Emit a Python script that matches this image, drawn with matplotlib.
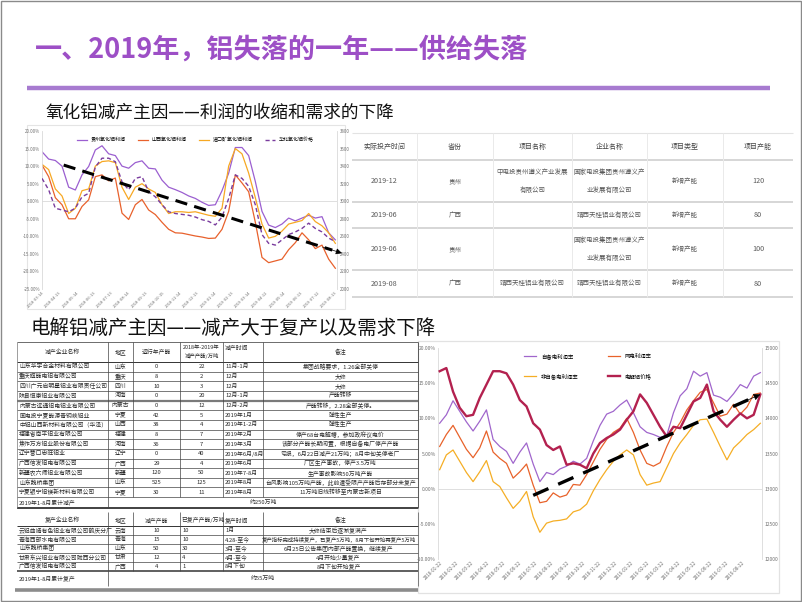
import numpy as np
import matplotlib
matplotlib.use('Agg')
import matplotlib.pyplot as plt
from matplotlib.patches import Rectangle

plt.rcParams['font.family'] = ['Noto Sans CJK SC', 'DejaVu Sans']
plt.rcParams['axes.unicode_minus'] = False

# ---------------- text ----------------
title = "一、2019年，铝失落的一年——供给失落"
sub1 = "氧化铝减产主因——利润的收缩和需求的下降"
sub2 = "电解铝减产主因——减产大于复产以及需求下降"

# ---------------- alumina chart data ----------------
alu_labels = ["贵州氧化铝利润", "山西氧化铝利润", "进口矿氧化铝利润", "华北氧化铝价格"]
alu_dates = ["2018-03-14", "2018-04-13", "2018-05-14", "2018-06-13", "2018-07-13", "2018-08-14",
             "2018-09-13", "2018-10-15", "2018-11-14", "2018-12-13", "2019-01-14", "2019-02-13",
             "2019-03-14", "2019-04-12", "2019-05-14", "2019-06-13", "2019-07-12", "2019-08-13"]
guizhou = [14.1, 12.0, 11.6, 10.0, 4.0, 3.2, 7.5, 9.9, 14.6, 15.8, 13.5, 13.0, 10.0, 9.4, 11.0,
           11.5, 9.4, 9.2, 6.0, 4.0, 3.3, 2.5, 1.5, 0.8, -0.3, -1.2, -1.0, 3.0, 8.0, 15.3,
           15.3, 13.0, 5.6, -2.9, -6.8, -7.5, -6.5, -4.8, -5.6, -4.8, -4.0, -4.8, -4.4, -9.0, -11.0]
shanxi = [10.3, 7.0, 1.0, -1.0, -5.0, -5.0, -1.5, 0.4, 7.0, 7.5, 5.8, 6.6, -3.4, -5.2, -1.0,
          0.5, -2.5, -3.8, -6.0, -8.0, -9.0, -9.1, -9.5, -9.9, -10.2, -10.6, -10.5, -8.0, -2.9, 7.5,
          5.2, 2.7, -6.0, -16.0, -17.5, -17.0, -16.5, -13.8, -11.8, -9.0, -11.0, -13.5, -12.5, -16.5, -19.1]
import_ore = [10.5, 9.0, 3.5, 1.5, -3.5, -2.0, 3.0, 3.5, 10.0, 11.3, 11.5, 11.0, 4.0, 0.5, 4.0,
              5.0, 3.5, 2.5, -1.0, -3.5, -3.0, -3.0, -3.2, -3.0, -3.5, -4.0, -4.3, -2.0, 10.0, 15.0,
              13.5, 8.0, 1.0, -6.5, -10.5, -10.0, -8.5, -6.5, -6.0, -5.5, -3.5, -5.8, -7.0, -9.0, -12.0]
huabei_price = [3260, 3130, 2920, 2900, 2880, 2920, 3050, 3090, 3390, 3490, 3490, 3450, 3220, 3130, 3260,
                 3280, 3110, 3050, 2960, 2880, 2860, 2850, 2840, 2820, 2790, 2770, 2730, 2820, 3030, 3300,
                 3260, 3170, 2960, 2620, 2520, 2500, 2560, 2620, 2650, 2690, 2750, 2690, 2650, 2580, 2540]
alu_trend_start = [3.25, 10.3]
alu_trend_end = [45.0, -14.8]

# ---------------- electrolytic aluminium chart data ----------------
el_labels = ["自备电利润率", "非自备电利润率", "网电利润率", "电解铝价格"]
el_dates = ["2018-01-22", "2018-02-22", "2018-03-22", "2018-04-22", "2018-05-22", "2018-06-22",
            "2018-07-22", "2018-08-22", "2018-09-22", "2018-10-22", "2018-11-22", "2018-12-22",
            "2019-01-22", "2019-02-22", "2019-03-22", "2019-04-22", "2019-05-22", "2019-06-22",
            "2019-07-22", "2019-08-22"]
self_power = [9.3, 10.5, 12.5, 11.0, 9.5, 8.2, 9.6, 11.2, 7.0, 6.0, 5.3, 3.6, 5.2, 6.5, 3.5,
              1.0, 2.3, 2.0, 2.8, 3.2, 3.9, 3.5, 4.3, 6.8, 9.0, 10.6, 11.0, 11.9, 12.6, 10.8,
              8.8, 8.0, 7.7, 7.3, 7.6, 10.8, 13.2, 14.2, 16.7, 16.0, 16.5, 13.3, 13.0, 12.4, 13.5,
              14.8, 14.3, 16.0, 16.5]
grid_power = [6.0, 7.7, 9.0, 7.3, 5.6, 4.4, 5.8, 8.2, 5.2, 4.3, 3.6, 1.5, 2.4, 3.5, 0.5,
              -2.0, -1.8, -0.6, -1.2, -0.9, 0.6, 0.5, 2.0, 3.8, 5.6, 7.0, 8.0, 8.6, 10.0, 8.0,
              5.5, 3.6, 3.2, 3.7, 6.0, 8.0, 9.4, 11.2, 12.5, 13.7, 14.1, 12.2, 10.3, 10.6, 12.0,
              10.6, 11.6, 13.4, 13.6]
non_self = [2.7, 4.8, 5.5, 3.9, 2.3, 1.0, 2.4, 4.0, 1.0, 0.3, -1.3, -2.8, -1.8, -0.4, -4.0,
            -6.2, -4.9, -4.6, -4.5, -4.3, -3.3, -3.0, -2.2, -0.3, 1.3, 2.7, 3.9, 4.8, 5.5, 4.8,
            2.0, 0.5, 0.8, 1.0, 3.0, 5.0, 6.5, 7.7, 9.0, 9.8, 9.9, 8.0, 6.0, 4.1, 5.8,
            6.7, 7.7, 8.4, 9.3]
al_price = [14670, 14715, 14380, 14150, 14030, 14050, 14290, 14480, 14670, 14670, 14640, 14480, 14260, 14170, 13930,
            13840, 13620, 13550, 13600, 13340, 13360, 13340, 13290, 13500, 13650, 13720, 13770, 13840, 13980, 14100,
            14340, 14220, 14050, 13880, 13740, 13880, 13860, 14050, 14240, 14290, 14480, 14100, 13980, 13880, 13980,
            14070, 14000, 14050, 14340]
el_trend_start = [14.0, -0.95]
el_trend_end = [48.0, 13.4]

# ---------------- top-right table ----------------
tr_header = ["实际投产时间", "省份", "项目名称", "企业名称", "项目类型", "项目产能"]
tr_time = ["2019-12", "2019-06", "2019-06", "2019-08"]
tr_prov = ["贵州", "广西", "贵州", "广西"]
tr_proj = ["中电投贵州遵义产业发展\n有限公司", "", "", "靖西天桂铝业有限公司"]
tr_comp = ["国家电投集团贵州遵义产\n业发展有限公司", "靖西天桂铝业有限公司",
           "国家电投集团贵州遵义产\n业发展有限公司", "靖西天桂铝业有限公司"]
tr_type = ["新增产能", "新增产能", "新增产能", "新增产能"]
tr_cap = [120, 80, 100, 80]

# ---------------- bottom-left tables ----------------
cut_header = ["减产企业名称", "地区", "运行年产能", "2018年-2019年\n减产产能/万吨", "减产时间", "备注"]
cut_names = ["山东华宇合金材料有限公司", "重庆旗能电铝有限公司", "四川广元启明星铝业有限责任公司",
             "陕县恒康铝业有限公司", "内蒙古远通铝电铝业有限公司", "国电投宁夏能源青铜峡铝业",
             "中铝山西新材料有限公司（华泽）", "福建省南平铝业有限公司", "焦作万方铝业股份有限公司",
             "辽宁营口忠旺铝业", "广西信发铝电有限公司", "新疆农六师铝业有限公司",
             "山东魏桥集团", "宁夏银宁铝镁新材料有限公司"]
cut_region = ["山东", "重庆", "四川", "河南", "内蒙古", "宁夏", "山西", "福建", "河南", "辽宁",
              "广西", "新疆", "山东", "宁夏"]
cut_capacity = [0, 8, 10, 0, 0, 42, 38, 8, 36, 0, 29, 120, 525, 30]
cut_amount = [22, 2, 3, 20, 12, 5, 4, 7, 7, 40, 4, 50, 125, 11]
cut_time = ["11月-1月", "12月", "12月", "12月-1月", "12月-2月", "2019年1月", "2019年1-2月", "2019年2月",
            "2019年3月", "2019年6月/8月", "2019年6月", "2019年7-8月", "2019年8月", "2019年8月"]
cut_note = ["集团战略要求，1.26全部关停", "大修", "大修", "产能转移", "产能转移，2.28全部关停。",
            "弹性生产", "弹性生产", "停产68台电解槽，参加政府议电价",
            "该部分产能长期闲置，根据自备电厂停产产能", "亏损，6月22日减产21万吨；8月中旬关停老厂",
            "厂区生产事故，停产3.5万吨", "生产事故影响50万吨产能",
            "台风影响105万吨产能，此前遭受限产产能后存部分未复产", "11万吨旧线转移至内蒙古新项目"]
cut_total = ["2019年1-8月累计减产", "约250万吨"]

res_header = ["复产企业名称", "地区", "减产产能", "已复产产能/万吨", "复产时间", "备注"]
res_names = ["云铝曲靖有色铝业有限公司鹤庆分厂", "青海西部水电有限公司", "山东魏桥集团",
             "甘肃东兴铝业有限公司陇西分公司", "广西信发铝电有限公司"]
res_region = ["云南", "青海", "山东", "甘肃", "广西"]
res_capacity = [10, 15, 50, 12, 4]
res_amount = [10, 10, 30, 4, 1]
res_time = ["1月", "4.28-至今", "3月-至今", "4月-至今", "8月下旬"]
res_note = ["大修结束后逐渐复满产", "复产指标完成持续复产，已复产5万吨，8月下旬开始再复产5万吨",
            "6月25日公告集团内部产能置换，继续复产", "4月开始少量复产", "8月下旬开始复产"]
res_total = ["2019年1-8月累计复产", "约55万吨"]

# =====================================================================
W, H = 802, 602
fig = plt.figure(figsize=(8.02, 6.02), dpi=100)
fig.patch.set_facecolor('white')
bg = fig.add_axes([0, 0, 1, 1])
bg.set_xlim(0, W)
bg.set_ylim(H, 0)
bg.axis('off')


def px_axes(x0, y0, x1, y1):
    return fig.add_axes([x0 / W, 1 - y1 / H, (x1 - x0) / W, (y1 - y0) / H])


def hline(y, x0, x1, color='#444444', lw=0.5):
    bg.plot([x0, x1], [y, y], color=color, lw=lw, solid_capstyle='butt')


def vline(x, y0, y1, color='#444444', lw=0.5):
    bg.plot([x, x], [y0, y1], color=color, lw=lw, solid_capstyle='butt')


# slide frame
bg.add_patch(Rectangle((0.5, 0.5), W - 1.5, H - 1.5, fill=False, ec='#8A8A8A', lw=1.0))

# title and rule
bg.text(35, 50, title, fontsize=19.5, fontweight='bold', color='#9D4FC6', va='center', ha='left')
bg.plot([27, 770], [88, 88], color='#A77BD0', lw=3.2, solid_capstyle='butt')
bg.text(45, 113, sub1, fontsize=12.7, va='center', ha='left', color='#111111')
bg.text(31, 328, sub2, fontsize=14.0, va='center', ha='left', color='#111111')

# chart frames
bg.add_patch(Rectangle((27, 125), 318, 184, fill=False, ec='#E4E4E4', lw=0.8))
bg.add_patch(Rectangle((418, 341), 361, 252, fill=False, ec='#E2E2E2', lw=0.9))


def style_axes(ax, axr, fs_l, fs_r):
    for s in ['top', 'bottom', 'right']:
        ax.spines[s].set_visible(False)
    ax.spines['left'].set_color('#D9D9D9')
    ax.spines['left'].set_linewidth(0.6)
    for s in ['top', 'bottom', 'left']:
        axr.spines[s].set_visible(False)
    axr.spines['right'].set_color('#D9D9D9')
    axr.spines['right'].set_linewidth(0.6)
    ax.tick_params(length=0, pad=1.5, labelsize=fs_l, colors='#707070')
    axr.tick_params(length=0, pad=2, labelsize=fs_r, colors='#707070')


def dashed_arrow(ax_draw, trans, start, end, lw, dash, head):
    sx, sy = start
    ex, ey = end
    f = 0.965
    bx, by = sx + f * (ex - sx), sy + f * (ey - sy)
    ax_draw.plot([sx, bx], [sy, by], transform=trans, color='black', lw=lw,
                 ls=(0, dash), dash_capstyle='butt', clip_on=False, zorder=10)
    hx, hy = sx + 0.93 * (ex - sx), sy + 0.93 * (ey - sy)
    ax_draw.annotate('', xy=(ex, ey), xytext=(hx, hy), xycoords=trans, textcoords=trans,
                     arrowprops=dict(arrowstyle='-|>', color='black', lw=0.5,
                                     mutation_scale=head, shrinkA=0, shrinkB=0),
                     annotation_clip=False, zorder=11)


# ---------------- top-left chart ----------------
ax1 = px_axes(42, 131, 337, 289)
x1 = np.arange(len(guizhou))
l1, = ax1.plot(x1, guizhou, color='#9B5FD0', lw=0.9)
l2, = ax1.plot(x1, shanxi, color='#E8612C', lw=0.9)
l3, = ax1.plot(x1, import_ore, color='#F7A823', lw=0.9)
ax1.axhline(0, color='#D9D9D9', lw=0.6, zorder=0)
ax1.set_xlim(0, 44.25)
ax1.set_ylim(-25, 20)
ax1.set_yticks(np.arange(-25, 21, 5))
ax1.set_yticklabels([f"{v:.2f}%" for v in np.arange(-25, 21, 5)])
ax1.set_xticks(np.linspace(0, 44, len(alu_dates)))
ax1.set_xticklabels(alu_dates, rotation=45, ha='right', rotation_mode='anchor')
ax1b = ax1.twinx()
l4, = ax1b.plot(x1, huabei_price, color='#7A3C9E', lw=1.0, ls=(0, (3, 2)))
ax1b.set_ylim(2000, 3800)
ax1b.set_yticks(np.arange(2000, 3801, 200))
ax1b.set_xlim(0, 44.25)
style_axes(ax1, ax1b, 3.2, 3.2)
ax1.tick_params(axis='x', labelsize=3.0, pad=1)
ax1b.legend([l1, l2, l3, l4], alu_labels, loc='upper center', bbox_to_anchor=(0.52, 1.0),
            ncol=4, frameon=False, fontsize=3.6, handlelength=2.0, columnspacing=2.6,
            handletextpad=0.6, borderaxespad=0.8)
dashed_arrow(ax1b, ax1.transData, alu_trend_start, alu_trend_end, 2.2, (4, 2.4), 9)

# ---------------- bottom-right chart ----------------
ax2 = px_axes(438, 348, 762, 559)
x2 = np.arange(len(self_power))
m1, = ax2.plot(x2, self_power, color='#A066CC', lw=0.9)
m2, = ax2.plot(x2, non_self, color='#F5AE25', lw=0.9)
m3, = ax2.plot(x2, grid_power, color='#E8622A', lw=0.9)
ax2.axhline(0, color='#D9D9D9', lw=0.6, zorder=0)
ax2.set_xlim(-0.25, 48.25)
ax2.set_ylim(-10, 20)
ax2.set_yticks(np.arange(-10, 21, 5))
ax2.set_yticklabels([f"{v:.2f}%" for v in np.arange(-10, 21, 5)])
ax2.set_xticks(np.linspace(0, 45.3, len(el_dates)))
ax2.set_xticklabels(el_dates, rotation=45, ha='right', rotation_mode='anchor')
ax2b = ax2.twinx()
m4, = ax2b.plot(x2, al_price, color='#B3214F', lw=1.7)
ax2b.set_ylim(12000, 15000)
ax2b.set_yticks(np.arange(12000, 15001, 500))
ax2b.set_xlim(-0.25, 48.25)
style_axes(ax2, ax2b, 3.6, 3.6)
ax2.tick_params(axis='x', labelsize=3.4, pad=1)
ax2b.legend([m1, m2, m3, m4], el_labels, loc='upper left', bbox_to_anchor=(0.25, 1.0),
            ncol=2, frameon=False, fontsize=3.9, handlelength=2.2, columnspacing=5.5,
            labelspacing=2.6, handletextpad=0.8, borderaxespad=0.6)
dashed_arrow(ax2b, ax2.transData, el_trend_start, el_trend_end, 2.4, (5, 3.2), 10)

# ---------------- top-right table ----------------
tc = [352, 417, 493, 572, 647, 723, 793]
tr = [133, 160, 202, 228, 270, 297]
txt_c = '#5A5A5A'
hline(tr[0], tc[0], tc[-1], '#E3E3E3', 0.8)
for y in tr[1:]:
    hline(y, tc[0], tc[-1], '#D6D6D6', 1.4)
for x in tc[1:-1]:
    vline(x, tr[0], tr[-1], '#EAEAEA', 0.7)
for j, h in enumerate(tr_header):
    bg.text((tc[j] + tc[j + 1]) / 2, (tr[0] + tr[1]) / 2, h, fontsize=5.0, color='#444444',
            ha='center', va='center')
for i in range(4):
    yc = (tr[i + 1] + tr[i + 2]) / 2
    cells = [tr_time[i], tr_prov[i], tr_proj[i], tr_comp[i], tr_type[i], str(tr_cap[i])]
    for j, t in enumerate(cells):
        bg.text((tc[j] + tc[j + 1]) / 2, yc, t, fontsize=4.7 if j in (1, 2, 3, 4) else 5.2,
                color=txt_c, ha='center', va='center', linespacing=2.6)

# ---------------- bottom-left tables ----------------
bc = [17, 108, 133, 180, 223, 263, 418]
fs_t = 4.2
tcol = '#2A2A2A'


def row_text(yc, cells, fs=fs_t):
    bg.text(bc[0] + 2, yc, cells[0], fontsize=fs, color=tcol, ha='left', va='center')
    bg.text((bc[1] + bc[2]) / 2, yc, cells[1], fontsize=fs, color=tcol, ha='center', va='center')
    bg.text((bc[2] + bc[3]) / 2, yc, cells[2], fontsize=fs, color=tcol, ha='center', va='center')
    bg.text((bc[3] + bc[4]) / 2, yc, cells[3], fontsize=fs, color=tcol, ha='center', va='center')
    bg.text(bc[4] + 2, yc, cells[4], fontsize=fs, color=tcol, ha='left', va='center')
    bg.text((bc[5] + bc[6]) / 2, yc, cells[5], fontsize=fs, color=tcol, ha='center', va='center')


# table 1
h0, h1 = 342, 362
rh = 9.65
nrow = len(cut_names)
rows_y = [h1 + rh * i for i in range(nrow + 1)]
foot1 = rows_y[-1] + 10.4
hline(h0, bc[0], bc[-1], '#555555', 0.6)
hline(h1, bc[0], bc[-1], '#333333', 0.7)
for i, y in enumerate(rows_y[1:]):
    if i == 3:
        hline(y, bc[0], bc[-1], '#7A7A7A', 1.6)
    else:
        hline(y, bc[0], bc[-1], '#444444', 0.5)
hline(foot1, bc[0], bc[-1], '#333333', 1.3)
for x in bc[1:-1]:
    vline(x, h0, rows_y[-1])
vline(bc[1], rows_y[-1], foot1)
vline(bc[0], h0, foot1, '#777777', 0.5)
vline(bc[-1], h0, foot1, '#444444', 0.6)
bg.text((bc[0] + bc[1]) / 2, (h0 + h1) / 2, cut_header[0], fontsize=fs_t, color=tcol, ha='center', va='center')
bg.text((bc[1] + bc[2]) / 2, (h0 + h1) / 2, cut_header[1], fontsize=fs_t, color=tcol, ha='center', va='center')
bg.text((bc[2] + bc[3]) / 2, (h0 + h1) / 2, cut_header[2], fontsize=fs_t, color=tcol, ha='center', va='center')
bg.text((bc[3] + bc[4]) / 2, (h0 + h1) / 2, cut_header[3], fontsize=3.9, color=tcol, ha='center', va='center', linespacing=1.6)
bg.text(bc[4] + 2, h0 + 5, cut_header[4], fontsize=fs_t, color=tcol, ha='left', va='center')
bg.text((bc[5] + bc[6]) / 2, (h0 + h1) / 2, cut_header[5], fontsize=fs_t, color=tcol, ha='center', va='center')
for i in range(nrow):
    yc = (rows_y[i] + rows_y[i + 1]) / 2
    row_text(yc, [cut_names[i], cut_region[i], str(cut_capacity[i]), str(cut_amount[i]), cut_time[i], cut_note[i]])
yf = (rows_y[-1] + foot1) / 2
bg.text(bc[0] + 2, yf, cut_total[0], fontsize=fs_t, color=tcol, ha='left', va='center')
bg.text((bc[1] + bc[-1]) / 2, yf, cut_total[1], fontsize=fs_t, color=tcol, ha='center', va='center')

# table 2
g0, g1 = 512, 526
rh2 = 9.0
nrow2 = len(res_names)
rows2 = [g1 + rh2 * i for i in range(nrow2 + 1)]
foot2 = 586
hline(g1, bc[0], bc[-1], '#333333', 0.7)
for i, y in enumerate(rows2[1:]):
    hline(y, bc[0], bc[-1], '#444444', 0.5 if i < nrow2 - 1 else 1.2)
for x in bc[1:-1]:
    vline(x, g0, rows2[-1])
vline(bc[1], rows2[-1], foot2)
vline(bc[-1], g0, foot2, '#555555', 0.5)
bg.plot([15, 418], [589.5, 589.5], color='#8C8C8C', lw=2.6, solid_capstyle='butt')
yh = (g0 + g1) / 2 + 1
bg.text((bc[0] + bc[1]) / 2, yh, res_header[0], fontsize=fs_t, color=tcol, ha='center', va='center')
bg.text((bc[1] + bc[2]) / 2, yh, res_header[1], fontsize=fs_t, color=tcol, ha='center', va='center')
bg.text((bc[2] + bc[3]) / 2, yh, res_header[2], fontsize=fs_t, color=tcol, ha='center', va='center')
bg.text(bc[3] + 1.5, yh, res_header[3], fontsize=fs_t, color=tcol, ha='left', va='center')
bg.text(bc[4] + 2, yh, res_header[4], fontsize=fs_t, color=tcol, ha='left', va='center')
bg.text((bc[5] + bc[6]) / 2, yh, res_header[5], fontsize=fs_t, color=tcol, ha='center', va='center')
for i in range(nrow2):
    yc = (rows2[i] + rows2[i + 1]) / 2
    bg.text(bc[0] + 2, yc, res_names[i], fontsize=fs_t, color=tcol, ha='left', va='center')
    bg.text((bc[1] + bc[2]) / 2, yc, res_region[i], fontsize=fs_t, color=tcol, ha='center', va='center')
    bg.text((bc[2] + bc[3]) / 2, yc, str(res_capacity[i]), fontsize=fs_t, color=tcol, ha='center', va='center')
    bg.text(bc[3] + 2, yc, str(res_amount[i]), fontsize=fs_t, color=tcol, ha='left', va='center')
    bg.text(bc[4] + 2, yc, res_time[i], fontsize=fs_t, color=tcol, ha='left', va='center')
    bg.text((bc[5] + bc[6]) / 2 - 2, yc, res_note[i], fontsize=fs_t if i != 1 else 3.9, color=tcol,
            ha='center', va='center')
yf2 = (rows2[-1] + foot2) / 2
bg.text(bc[0] + 2, yf2, res_total[0], fontsize=fs_t, color=tcol, ha='left', va='center')
bg.text((bc[1] + bc[-1]) / 2, yf2, res_total[1], fontsize=fs_t, color=tcol, ha='center', va='center')

fig.savefig('out.png', dpi=100, facecolor='white')
